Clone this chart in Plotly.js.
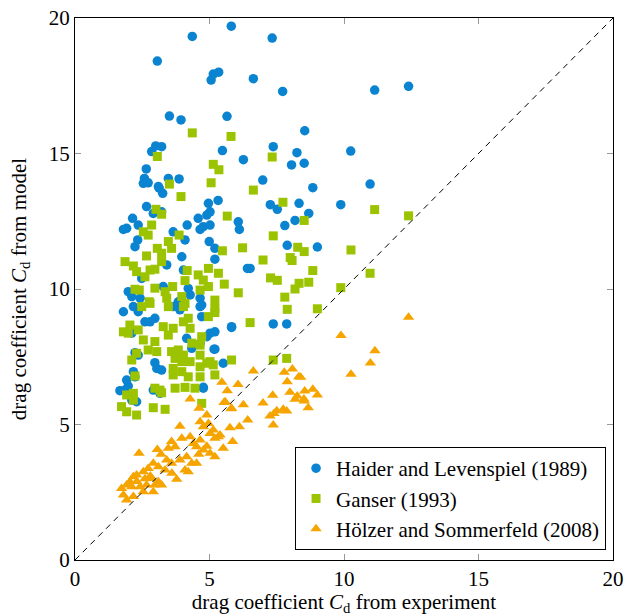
<!DOCTYPE html>
<html>
<head>
<meta charset="utf-8">
<script src="https://cdn.plot.ly/plotly-3.0.1.min.js"></script>
<style>html,body{margin:0;padding:0;background:#fff;}</style>
</head>
<body>
<div id="chart" style="width:628px;height:616px;"></div>
<script>
// Haider and Levenspiel (1989)
const haiderX = [5.81,4.36,7.33,3.06,5.06,5.14,5.34,6.63,7.72,11.14,12.40,3.51,3.94,5.65,8.54,7.37,8.25,3.00,3.22,2.85,5.48,10.25,6.26,8.05,8.52,2.65,2.58,2.54,2.72,3.47,3.87,3.10,6.98,8.84,10.97,3.13,3.26,
7.26,7.52,8.33,9.88,8.69,8.18,7.80,7.89,9.01,6.51,7.37,7.87,
4.96,5.32,2.66,2.91,3.22,2.14,2.35,1.92,1.80,4.58,4.90,5.02,4.77,4.65,5.02,4.17,6.07,6.11,3.65,2.33,2.23,4.09,4.99,5.20,3.97,5.20,3.41,4.03,6.41,2.48,1.98,2.11,2.42,3.28,4.21,4.28,3.84,4.65,4.71,
1.80,2.17,2.35,2.97,2.79,2.60,3.65,3.90,4.65,4.71,5.82,5.20,5.02,4.90,2.11,4.15,4.65,4.34,5.20,2.23,2.35,2.97,3.22,3.04,5.51,2.17,2.23,1.92,1.98,1.86,1.67,4.77,2.91,3.16,2.29,2.11,
5.82,5.17,4.77];
const haiderY = [19.70,19.32,19.26,18.41,17.71,17.93,18.00,17.76,17.29,17.34,17.48,16.38,16.24,16.37,15.84,15.25,15.03,15.28,15.25,15.07,15.11,15.09,14.77,14.58,14.64,14.43,14.08,13.90,13.92,14.08,14.06,13.78,14.02,13.74,13.87,13.72,13.53,
13.11,12.94,13.16,13.11,12.79,12.53,12.34,11.61,11.55,10.76,8.71,8.71,
13.16,13.27,13.04,12.79,12.85,12.61,12.36,12.24,12.20,12.61,12.73,12.85,12.30,12.20,12.36,12.36,12.48,12.20,12.11,11.81,11.56,11.81,11.75,11.50,11.19,11.10,10.89,10.70,10.76,10.39,9.90,9.72,9.66,10.09,10.02,9.78,9.53,9.66,9.41,
9.16,9.35,9.16,8.92,8.79,8.79,9.35,9.23,9.35,8.98,8.58,8.42,8.37,8.24,8.37,8.18,7.99,7.81,7.78,7.65,7.56,7.28,7.01,7.07,7.26,6.95,6.76,6.64,6.42,6.27,6.25,6.37,6.27,6.15,5.84,5.90,
8.61,7.78,6.34];

// Ganser (1993)
const ganserX = [4.36,5.80,3.06,5.14,5.35,7.33,3.51,5.06,6.63,
7.73,11.14,12.40,8.52,7.37,8.28,8.52,8.00,8.07,10.26,6.99,8.84,7.27,7.52,8.33,8.18,8.69,10.97,9.88,7.80,7.89,9.01,6.51,
7.37,7.87,5.82,
3.94,3.01,3.22,5.66,2.85,2.54,2.72,3.87,3.47,3.59,3.06,3.22,2.66,5.48,6.23,1.86,2.17,2.29,2.60,2.79,2.97,3.22,4.17,4.96,5.33,4.58,4.77,4.96,4.65,4.09,5.55,6.07,2.23,2.39,2.97,3.63,
3.35,3.41,3.97,4.09,5.20,5.20,2.76,2.48,3.47,
2.79,4.03,5.20,4.96,2.04,1.80,1.98,2.35,2.54,2.97,2.72,3.04,2.29,2.11,3.28,3.47,3.65,4.03,4.21,4.28,4.34,4.65,4.71,3.59,3.84,4.03,3.72,3.97,4.28,4.65,5.02,5.14,5.20,3.65,3.65,3.97,4.21,4.65,4.65,4.90,2.23,2.97,3.16,3.22,3.72,4.09,4.46,1.92,2.17,2.17,1.73,1.92,2.29,2.91,3.35,4.71];
const ganserY = [15.76,15.63,14.89,14.60,14.40,14.87,13.87,13.92,13.65,
13.20,12.93,12.70,12.53,11.96,11.54,11.38,11.16,11.05,11.44,11.07,10.68,10.41,10.32,10.21,10.00,10.25,10.58,10.05,9.70,9.25,9.27,8.76,
7.38,7.44,7.38,
13.41,12.94,12.76,12.69,12.36,12.11,11.99,11.99,11.75,11.50,11.50,11.32,11.22,11.41,11.52,11.01,10.85,10.64,10.45,10.70,10.73,11.01,10.68,10.76,10.58,10.52,10.33,10.09,9.96,10.31,10.18,9.86,9.99,9.96,10.03,10.09,
9.90,9.66,9.72,9.47,9.59,9.29,9.53,9.35,9.35,
9.47,9.35,9.13,8.98,8.67,8.42,8.37,8.49,8.12,8.06,7.75,7.69,7.63,7.38,8.61,8.30,8.55,8.79,8.92,8.55,8.00,7.93,8.24,7.69,7.75,7.56,7.44,7.32,7.32,7.56,7.32,7.20,6.83,7.07,6.83,6.95,6.76,6.76,7.13,7.26,6.79,6.34,6.27,6.17,6.34,6.37,6.34,6.09,6.15,5.90,5.66,5.47,5.35,5.62,5.56,5.78];

// Hölzer and Sommerfeld (2008)
const holzerX = [12.40,9.89,11.15,10.98,10.26,8.39,8.54,8.84,9.01,8.51,8.67,6.63,7.78,8.08,8.32,7.89,5.46,6.06,5.66,7.35,7.99,8.26,8.18,8.52,6.99,5.54,5.80,6.26,7.25,7.50,7.74,7.87,7.40,6.42,6.11,5.76,7.37,4.90,4.96,5.14,5.39,
4.28,4.61,5.58,5.82,3.90,4.65,4.77,5.02,5.20,5.33,4.65,4.52,5.86,5.51,5.20,4.77,5.02,4.28,3.97,3.59,3.47,3.72,3.06,2.38,3.90,4.15,4.34,4.09,4.52,4.21,3.78,3.41,3.59,3.35,3.10,2.91,2.72,2.54,2.29,3.22,3.10,2.85,2.97,2.17,2.04,1.92,2.11,2.42,2.66,2.54,2.91,1.73,1.80,2.17,1.92,
4.40,4.90,3.20,2.80,3.60,4.60,2.30,2.60];
const holzerY = [8.96,8.28,7.72,7.27,6.85,6.74,6.24,6.30,6.09,5.94,5.62,6.97,6.93,7.05,6.76,6.58,6.56,6.48,6.25,6.08,6.19,6.05,5.93,5.87,5.79,5.81,5.58,5.73,5.31,5.51,5.56,5.50,5.41,5.17,4.92,4.88,4.98,5.35,5.04,4.80,4.61,
5.94,5.60,5.84,5.60,4.94,5.10,4.92,4.67,4.49,4.55,4.43,4.18,4.37,4.12,3.81,4.06,3.94,4.55,4.49,4.37,4.12,4.18,4.08,3.94,3.69,3.81,3.57,3.32,3.57,3.26,2.98,3.69,3.57,3.32,3.44,3.57,3.38,3.26,3.14,2.77,2.89,3.01,2.77,3.07,2.89,2.77,2.70,2.70,2.77,2.52,2.52,2.64,2.40,2.34,2.21,
4.30,4.20,3.90,3.10,3.20,3.90,2.90,3.00];

const diagX = [0, 20];
const diagY = [0, 20];

const seriesNames = ['Haider and Levenspiel (1989)', 'Ganser (1993)', 'Hölzer and Sommerfeld (2008)'];
const tickVals = [0, 5, 10, 15, 20];

const serif = 'Liberation Serif';

const traces = [
  {x: haiderX, y: haiderY, mode: 'markers', type: 'scatter', name: seriesNames[0],
   marker: {symbol: 'circle', size: 9.5, color: '#0A84D0'}},
  {x: ganserX, y: ganserY, mode: 'markers', type: 'scatter', name: seriesNames[1],
   marker: {symbol: 'square', size: 9, color: '#9CC300'}},
  {x: holzerX, y: holzerY, mode: 'markers', type: 'scatter', name: seriesNames[2],
   marker: {symbol: 'triangle-up', size: 10, color: '#F6A500'}},
  {x: diagX, y: diagY, mode: 'lines', type: 'scatter', showlegend: false, hoverinfo: 'skip',
   line: {color: '#000', width: 1, dash: '6px,5px'}}
];

const axisCommon = {
  range: [0, 20], tickvals: tickVals, ticks: 'inside', ticklen: 6, tickcolor: '#999',
  showline: true, linecolor: '#000', linewidth: 1, mirror: 'ticks',
  showgrid: false, zeroline: false,
  tickfont: {family: serif, size: 21, color: '#000'}
};

const layout = {
  width: 628, height: 616,
  margin: {l: 75, r: 15, t: 18, b: 56},
  paper_bgcolor: '#fff', plot_bgcolor: '#fff',
  showlegend: true,
  font: {family: serif, color: '#000', size: 21},
  xaxis: Object.assign({}, axisCommon, {
    title: {text: 'drag coefficient <i>C</i><sub>d</sub> from experiment', font: {family: serif, size: 21, color: '#000'}, standoff: 4}
  }),
  yaxis: Object.assign({}, axisCommon, {
    title: {text: 'drag coefficient <i>C</i><sub>d</sub> from model', font: {family: serif, size: 21, color: '#000'}, standoff: 16}
  }),
  legend: {
    x: 0.409, y: 0.2085, xanchor: 'left', yanchor: 'top',
    bordercolor: '#000', borderwidth: 1, bgcolor: '#fff',
    font: {family: serif, size: 21, color: '#000'},
    itemwidth: 30
  }
};

Plotly.newPlot('chart', traces, layout, {displayModeBar: false, staticPlot: true});
</script>
</body>
</html>
